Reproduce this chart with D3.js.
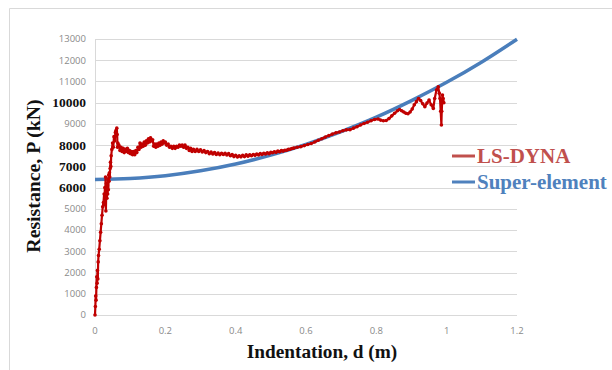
<!DOCTYPE html>
<html>
<head>
<meta charset="utf-8">
<script src="https://cdn.jsdelivr.net/npm/d3@7"></script>
<style>
  html, body { margin: 0; padding: 0; background: #fff; }
  svg { display: block; }
</style>
</head>
<body>
<svg id="chart" width="612" height="370"></svg>
<script>
// Y-axis ticks (kN); some labels are set in bold serif
const yTicks = [0, 1000, 2000, 3000, 4000, 5000, 6000, 7000, 8000, 9000, 10000, 11000, 12000, 13000];
const yBoldTicks = [6000, 7000, 8000, 10000];
const xTicks = [0, 0.2, 0.4, 0.6, 0.8, 1, 1.2];

// LS-DYNA simulation: indentation d (m) and resistance P (kN)
const lsDynaD = [
  0, 0.001, 0.002, 0.003, 0.004, 0.005, 0.006, 0.007, 0.008, 0.009, 0.010, 0.012, 0.014, 0.016, 0.018, 0.020,
  0.022, 0.024, 0.026, 0.027, 0.028, 0.029, 0.030, 0.031, 0.032, 0.033, 0.034, 0.035, 0.036, 0.037, 0.038, 0.039,
  0.040, 0.041, 0.042, 0.043, 0.044, 0.045, 0.046, 0.048, 0.050, 0.052, 0.054, 0.056, 0.058, 0.060, 0.062, 0.063,
  0.064, 0.065,
  0.068, 0.071, 0.074, 0.077, 0.080, 0.083, 0.086, 0.089, 0.092, 0.095, 0.098, 0.101, 0.104, 0.107, 0.110, 0.113,
  0.116, 0.119, 0.122, 0.125, 0.128, 0.131, 0.134, 0.137, 0.140, 0.143, 0.146, 0.149, 0.152, 0.155, 0.158, 0.161,
  0.164, 0.167, 0.170, 0.173, 0.176, 0.179, 0.182, 0.185, 0.188, 0.191, 0.194, 0.197, 0.200, 0.204, 0.208, 0.212,
  0.216, 0.220, 0.224, 0.228, 0.232, 0.236, 0.240, 0.244, 0.248, 0.252, 0.256, 0.260, 0.264, 0.268, 0.272, 0.276,
  0.280, 0.285, 0.290, 0.295, 0.300, 0.305, 0.310, 0.315, 0.320, 0.325, 0.330, 0.335, 0.340, 0.345, 0.350, 0.355,
  0.360, 0.365, 0.370, 0.375, 0.380, 0.385, 0.390, 0.395, 0.400, 0.405, 0.410, 0.415, 0.420, 0.425, 0.430, 0.435,
  0.440, 0.445, 0.450, 0.455, 0.460, 0.465, 0.470, 0.475, 0.480, 0.485, 0.490, 0.495, 0.500, 0.505, 0.510, 0.515,
  0.520, 0.525, 0.530, 0.535, 0.540, 0.545, 0.550, 0.555, 0.560, 0.565,
  0.575, 0.585, 0.595, 0.605, 0.615, 0.625, 0.635, 0.645, 0.655, 0.665, 0.675, 0.685, 0.695, 0.705, 0.715, 0.725,
  0.735, 0.745, 0.755, 0.765, 0.775, 0.785, 0.795, 0.805, 0.812, 0.820, 0.828, 0.836, 0.844, 0.852, 0.860, 0.866,
  0.872, 0.878, 0.884, 0.890, 0.896, 0.902, 0.908, 0.914, 0.920, 0.926, 0.932, 0.938, 0.944, 0.950, 0.956, 0.962,
  0.966, 0.971, 0.976, 0.979, 0.981, 0.983, 0.985, 0.986, 0.988, 0.990, 0.992
];
const lsDynaP = [
  0, 400, 900, 700, 1300, 1800, 1500, 2100, 1700, 2500, 2800, 3100, 3500, 3900, 4300, 4700,
  5100, 5300, 5700, 5200, 6000, 5400, 6500, 4900, 5800, 6200, 5500, 6100, 5700, 6400, 5900, 6600,
  6300, 6700, 6500, 6900, 7200, 7000, 7500, 7800, 8100, 7900, 8400, 8200, 8600, 8700, 8800, 8500,
  7900, 8100,
  8000, 7750, 7900, 7700, 7850, 7650, 7800, 7700, 7850, 7650, 7750, 7600, 7700, 7550, 7700, 7550,
  7750, 7650, 7900, 7800, 8100, 7900, 8050, 7950, 8150, 8000, 8200, 8100, 8300, 8150, 8350, 8200,
  8250, 7950, 8050, 7900, 8050, 7950, 8100, 8000, 8150, 8050, 8200, 8100, 8150, 8000, 8050, 7900,
  7950, 7850, 7950, 7850, 7950, 7900, 8000, 7950, 8000, 7900, 8000, 7850, 7900, 7750, 7850, 7700,
  7800, 7700, 7800, 7700, 7780, 7680, 7750, 7650, 7700, 7600, 7680, 7580, 7650, 7560, 7630, 7550,
  7620, 7560, 7620, 7540, 7600, 7500, 7560, 7460, 7520, 7440, 7500, 7450, 7520, 7460, 7540, 7480,
  7550, 7500, 7560, 7520, 7580, 7540, 7600, 7560, 7620, 7580, 7640, 7600, 7660, 7640, 7690, 7660,
  7720, 7690, 7740, 7720, 7760, 7760, 7800, 7810, 7840, 7860,
  7900, 7930, 7980, 8030, 8080, 8150, 8230, 8300, 8380, 8450, 8520, 8580, 8620, 8680, 8720, 8730,
  8800, 8870, 8950, 9020, 9080, 9150, 9210, 9230, 9180, 9150, 9160, 9250, 9380, 9500, 9620, 9680,
  9620, 9560, 9500, 9480, 9560, 9700, 9900, 10050, 10200, 10100, 9950, 9810, 9980, 10130, 9900, 9730,
  10200, 10600, 10750, 10450, 10200, 9600, 8950, 9600, 10360, 10200, 10000
];

// Super-element model: indentation d (m) and resistance P (kN)
const superD = [0, 0.1, 0.2, 0.3, 0.4, 0.5, 0.6, 0.7, 0.8, 0.9, 1.0, 1.1, 1.2];
const superP = [6380, 6430, 6560, 6790, 7110, 7530, 8040, 8640, 9320, 10100, 10960, 11920, 12990];

const seriesNames = ["LS-DYNA", "Super-element"];

const svg = d3.select("#chart");
const x = d3.scaleLinear().domain([0, 1.2]).range([95, 517]);
const y = d3.scaleLinear().domain([0, 13000]).range([315, 39]);

// Outer chart frame
svg.append("path")
  .attr("d", "M9.5,372 V8.5 H614")
  .attr("fill", "none").attr("stroke", "#d9d9d9").attr("stroke-width", 1);

// Horizontal gridlines
svg.append("g").selectAll("line").data(yTicks).join("line")
  .attr("x1", x(0)).attr("x2", x(1.2))
  .attr("y1", d => Math.round(y(d)) + 0.5).attr("y2", d => Math.round(y(d)) + 0.5)
  .attr("stroke", "#d9d9d9").attr("stroke-width", 1);

// Vertical axis line
svg.append("line")
  .attr("x1", Math.round(x(0)) + 0.5).attr("x2", Math.round(x(0)) + 0.5)
  .attr("y1", y(13000)).attr("y2", y(0))
  .attr("stroke", "#d9d9d9").attr("stroke-width", 1);

// Y tick labels
svg.append("g").selectAll("text").data(yTicks).join("text")
  .attr("x", 86)
  .attr("y", d => y(d))
  .attr("dy", "0.35em")
  .attr("text-anchor", "end")
  .attr("font-family", d => yBoldTicks.includes(d) ? "'Liberation Serif', serif" : "'Open Sans', 'Liberation Sans', sans-serif")
  .attr("font-weight", d => yBoldTicks.includes(d) ? "bold" : "normal")
  .attr("font-size", d => yBoldTicks.includes(d) ? 13.5 : 9.5)
  .attr("fill", d => yBoldTicks.includes(d) ? "#111" : "#8a8a8a")
  .text(d => d);

// X tick labels
svg.append("g").selectAll("text").data(xTicks).join("text")
  .attr("x", d => x(d))
  .attr("y", 334)
  .attr("text-anchor", "middle")
  .attr("font-family", "'Open Sans', 'Liberation Sans', sans-serif")
  .attr("font-size", 9.5)
  .attr("fill", "#8a8a8a")
  .text(d => d);

// Axis titles
svg.append("text")
  .attr("transform", "translate(40,176) rotate(-90)")
  .attr("text-anchor", "middle")
  .attr("font-family", "'Liberation Serif', serif")
  .attr("font-weight", "bold")
  .attr("font-size", 19.8)
  .attr("fill", "#111")
  .text("Resistance, P (kN)");

svg.append("text")
  .attr("x", 322).attr("y", 358)
  .attr("text-anchor", "middle")
  .attr("font-family", "'Liberation Serif', serif")
  .attr("font-weight", "bold")
  .attr("font-size", 19.3)
  .attr("fill", "#111")
  .text("Indentation, d (m)");

// Super-element curve
const superData = superD.map((d, i) => [d, superP[i]]);
svg.append("path")
  .datum(superData)
  .attr("fill", "none")
  .attr("stroke", "#4a7ebb")
  .attr("stroke-width", 3.5)
  .attr("d", d3.line().x(d => x(d[0])).y(d => y(d[1])).curve(d3.curveCatmullRom));

// LS-DYNA line with point markers
const lsData = lsDynaD.map((d, i) => [d, lsDynaP[i]]);
svg.append("path")
  .datum(lsData)
  .attr("fill", "none")
  .attr("stroke", "#c00000")
  .attr("stroke-width", 2.2)
  .attr("stroke-linejoin", "round")
  .attr("d", d3.line().x(d => x(d[0])).y(d => y(d[1])));

svg.append("g").selectAll("circle").data(lsData).join("circle")
  .attr("cx", d => x(d[0])).attr("cy", d => y(d[1]))
  .attr("r", 1.8)
  .attr("fill", "#c00000");

// Legend
const legendColors = ["#c0504d", "#4f81bd"];
const legendY = [156, 182];
const legend = svg.append("g").selectAll("g").data(seriesNames).join("g")
  .attr("transform", (d, i) => `translate(0,${legendY[i]})`);
legend.append("line")
  .attr("x1", 452).attr("x2", 475).attr("y1", 0).attr("y2", 0)
  .attr("stroke", (d, i) => legendColors[i]).attr("stroke-width", 3);
legend.append("text")
  .attr("x", 477).attr("y", 0).attr("dy", "0.35em")
  .attr("font-family", "'Liberation Serif', serif")
  .attr("font-weight", "bold")
  .attr("font-size", 21)
  .attr("fill", (d, i) => legendColors[i])
  .text(d => d);
</script>
</body>
</html>
